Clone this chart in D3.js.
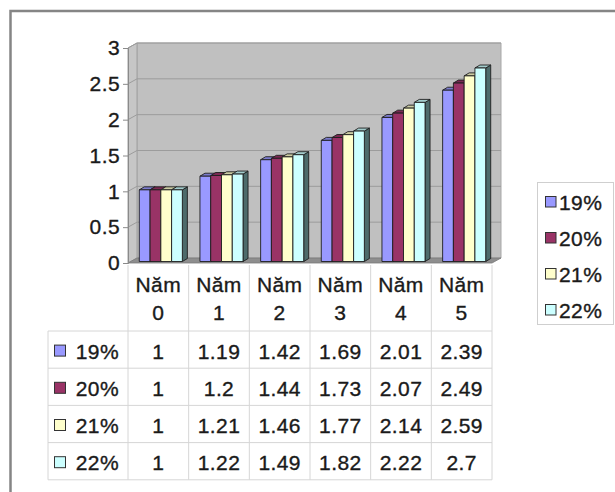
<!DOCTYPE html>
<html>
<head>
<meta charset="utf-8">
<script src="https://cdn.jsdelivr.net/npm/d3@7"></script>
<style>
  html, body { margin: 0; padding: 0; background: #fff; }
  svg { display: block; }
  text { font-family: "Liberation Sans", Arial, sans-serif; fill: #1a1a1a;
         stroke: #1a1a1a; stroke-width: 0.35px; letter-spacing: 0.4px; }
</style>
</head>
<body>
<svg id="chart" width="615" height="492"></svg>
<script>
// Growth factor of 1 unit over five years at different rates
const categories = ["Năm 0", "Năm 1", "Năm 2", "Năm 3", "Năm 4", "Năm 5"];
const seriesNames = ["19%", "20%", "21%", "22%"];
const values19 = [1, 1.19, 1.42, 1.69, 2.01, 2.39];
const values20 = [1, 1.2, 1.44, 1.73, 2.07, 2.49];
const values21 = [1, 1.21, 1.46, 1.77, 2.14, 2.59];
const values22 = [1, 1.22, 1.49, 1.82, 2.22, 2.7];
const yTicks = [0, 0.5, 1, 1.5, 2, 2.5, 3];

const seriesValues = [values19, values20, values21, values22];
const frontColors = ["#9999ff", "#993366", "#ffffcc", "#ccffff"];
const topColors   = ["#7b7bcc", "#7a2952", "#cccca3", "#a3cccc"];
const sideColors  = ["#4d4d80", "#4d1a33", "#808066", "#4d6b6b"];

const svg = d3.select("#chart");

// Outer chart frame
svg.append("rect")
  .attr("x", 10.5).attr("y", 11).attr("width", 640).attr("height", 520)
  .attr("fill", "none").attr("stroke", "#858585").attr("stroke-width", 2.5);

// Scales: front plane of the 3-D plot box
const col = d3.scaleBand().domain(categories).range([128, 492]);
const barBand = col.copy().paddingInner(0.29).paddingOuter(0.145);
const sub = d3.scaleBand().domain(seriesNames).range([0, barBand.bandwidth()]);
const y = d3.scaleLinear().domain([0, 3]).range([263, 48]);

// Depth offsets
const wallDx = 9, wallDy = -5;      // back wall relative to front plane
const barDx = 2.5, barDy = -1.5;    // bar front face relative to front plane
const depDx = 5, depDy = -3;        // bar depth

const x0 = col.range()[0], x1 = col.range()[1];
const poly = pts => "M" + pts.map(p => p.join(",")).join("L") + "Z";

const plot = svg.append("g");

// Back wall
plot.append("path")
  .attr("d", poly([[x0 + wallDx, y(0) + wallDy], [x1 + wallDx, y(0) + wallDy],
                   [x1 + wallDx, y(3) + wallDy], [x0 + wallDx, y(3) + wallDy]]))
  .attr("fill", "#c0c0c0").attr("stroke", "#a8a8a8").attr("stroke-width", 1);

// Left side wall
plot.append("path")
  .attr("d", poly([[x0, y(0)], [x0 + wallDx, y(0) + wallDy],
                   [x0 + wallDx, y(3) + wallDy], [x0, y(3)]]))
  .attr("fill", "#c6c6c6").attr("stroke", "#a0a0a0").attr("stroke-width", 1);

// Gridlines on back and side walls
yTicks.filter(v => v > 0).forEach(v => {
  plot.append("path")
    .attr("d", `M${x0},${y(v)}L${x0 + wallDx},${y(v) + wallDy}L${x1 + wallDx},${y(v) + wallDy}`)
    .attr("fill", "none").attr("stroke", "#9c9c9c").attr("stroke-width", 1);
});

// Floor
plot.append("path")
  .attr("d", poly([[x0, y(0)], [x1, y(0)], [x1 + wallDx, y(0) + wallDy], [x0 + wallDx, y(0) + wallDy]]))
  .attr("fill", "#8e8e8e").attr("stroke", "#7a7a7a").attr("stroke-width", 0.8);

// Bars, drawn left to right so the next bar hides the previous side face
const bars = plot.append("g").attr("stroke", "#1e1e1e").attr("stroke-width", 0.9)
  .attr("stroke-linejoin", "round");
categories.forEach((c, ci) => {
  seriesNames.forEach((s, si) => {
    const v = seriesValues[si][ci];
    const bx = barBand(c) + sub(s) + barDx;
    const bw = sub.bandwidth();
    const yt = y(v) + barDy, yb = y(0) + barDy;
    const g = bars.append("g");
    g.append("path")
      .attr("d", poly([[bx + bw, yb], [bx + bw + depDx, yb + depDy], [bx + bw + depDx, yt + depDy], [bx + bw, yt]]))
      .attr("fill", sideColors[si]);
    g.append("path")
      .attr("d", poly([[bx, yt], [bx + bw, yt], [bx + bw + depDx, yt + depDy], [bx + depDx, yt + depDy]]))
      .attr("fill", topColors[si]);
    g.append("rect")
      .attr("x", bx).attr("y", yt).attr("width", bw).attr("height", yb - yt)
      .attr("fill", frontColors[si]);
  });
});

// Value axis
const yAxis = d3.axisLeft(y).tickValues(yTicks).tickSize(5).tickPadding(3)
  .tickFormat(d3.format("~g"));
const ax = svg.append("g").attr("transform", `translate(${x0},0)`).call(yAxis);
ax.select(".domain").attr("stroke", "#8a8a8a");
ax.selectAll(".tick line").attr("stroke", "#8a8a8a");
ax.selectAll(".tick text").attr("font-size", 21).attr("fill", "#1a1a1a")
  .attr("font-family", '"Liberation Sans", Arial, sans-serif');

// Data table under the plot
const table = svg.append("g");
const lineColor = "#d6d6d6";
const headTop = 265, headBottom = 331, rowH = 37.2;
const tableBottom = headBottom + rowH * seriesNames.length;
const labelLeft = 48;

// Vertical rules
categories.forEach(c => {
  table.append("line")
    .attr("x1", col(c)).attr("x2", col(c)).attr("y1", headTop).attr("y2", tableBottom)
    .attr("stroke", lineColor);
});
table.append("line").attr("x1", x1).attr("x2", x1).attr("y1", headTop).attr("y2", tableBottom)
  .attr("stroke", lineColor);
table.append("line").attr("x1", labelLeft).attr("x2", labelLeft).attr("y1", headBottom).attr("y2", tableBottom)
  .attr("stroke", lineColor);
// Horizontal rules
d3.range(seriesNames.length + 1).forEach(i => {
  const yy = headBottom + i * rowH;
  table.append("line").attr("x1", labelLeft).attr("x2", x1).attr("y1", yy).attr("y2", yy)
    .attr("stroke", lineColor);
});

// Category header (two lines)
categories.forEach(c => {
  const parts = c.split(" ");
  const cx = col(c) + col.bandwidth() / 2;
  table.append("text").attr("x", cx).attr("y", 292).attr("text-anchor", "middle")
    .attr("font-size", 21).text(parts[0]);
  table.append("text").attr("x", cx).attr("y", 320).attr("text-anchor", "middle")
    .attr("font-size", 21).text(parts[1]);
});

// Rows
seriesNames.forEach((s, si) => {
  const cy = headBottom + si * rowH + rowH / 2 + 1.5;
  table.append("rect").attr("x", 54.5).attr("y", cy - 6).attr("width", 11).attr("height", 11)
    .attr("fill", frontColors[si]).attr("stroke", "#333").attr("stroke-width", 1);
  table.append("text").attr("x", 119).attr("y", cy + 7.5).attr("text-anchor", "end")
    .attr("font-size", 21).text(s);
  categories.forEach((c, ci) => {
    table.append("text").attr("x", col(c) + col.bandwidth() / 2).attr("y", cy + 7.5)
      .attr("text-anchor", "middle").attr("font-size", 21)
      .text(d3.format("~g")(seriesValues[si][ci]));
  });
});

// Legend
const legend = svg.append("g");
legend.append("rect").attr("x", 537.5).attr("y", 182.5).attr("width", 76).attr("height", 142)
  .attr("fill", "#fff").attr("stroke", "#cfcfcf");
seriesNames.forEach((s, si) => {
  const cy = 202 + si * 36;
  legend.append("rect").attr("x", 545.5).attr("y", cy - 5.5).attr("width", 10.5).attr("height", 10.5)
    .attr("fill", frontColors[si]).attr("stroke", "#333").attr("stroke-width", 1);
  legend.append("text").attr("x", 559).attr("y", cy + 7.5).attr("font-size", 21).text(s);
});
</script>
</body>
</html>
